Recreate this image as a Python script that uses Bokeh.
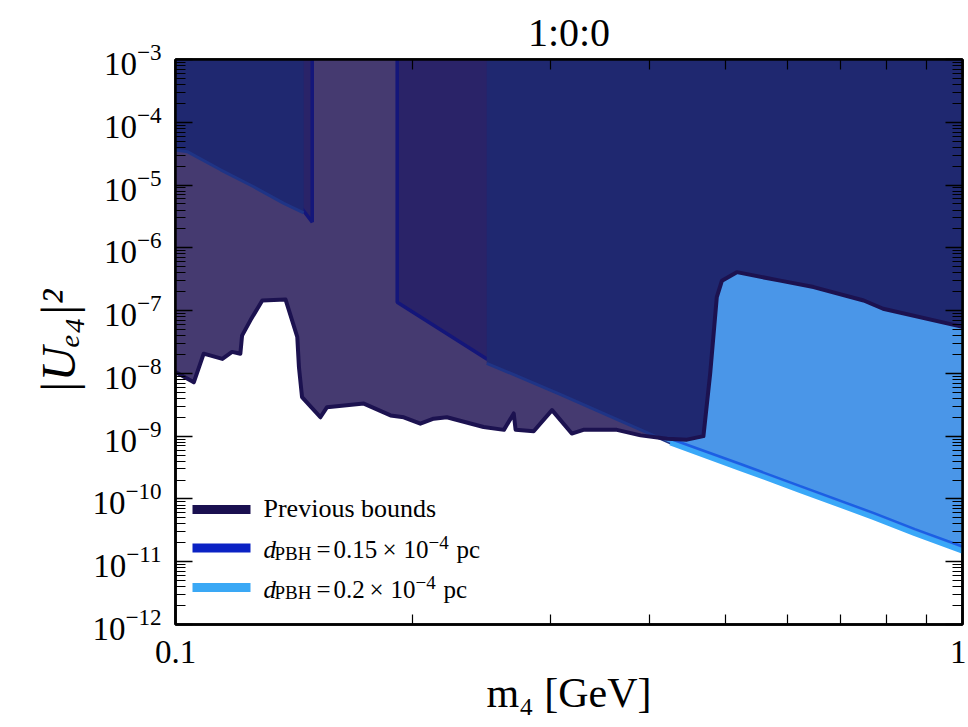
import numpy as np
from bokeh.plotting import figure
from bokeh.models import LogAxis, FixedTicker, LogTickFormatter, Label, BoxAnnotation, Range1d
from bokeh.embed import file_html
from bokeh.resources import INLINE

# ---------------- data ----------------
title_text = "1:0:0"
x_label = "m\u2084 [GeV]"
y_label = "|U\u2091\u2084|\u00b2"
x_min, x_max = 0.1, 1.0
y_min, y_max = 1e-12, 1e-3
x_major = [0.1, 1.0]
x_minor = [0.2, 0.3, 0.4, 0.5, 0.6, 0.7, 0.8, 0.9]
x_major_labels = {0.1: "0.1", 1: "1"}
y_major = [1e-12, 1e-11, 1e-10, 1e-9, 1e-8, 1e-7, 1e-6, 1e-5, 1e-4, 1e-3]

# previous bounds (lower edge of excluded region)
prev_x = [0.1, 0.1055, 0.1086, 0.1147, 0.118, 0.1209, 0.1215, 0.1245, 0.1289, 0.138,
          0.1428, 0.1435, 0.1448, 0.1528, 0.1558, 0.1735, 0.1876, 0.195, 0.2047, 0.2128,
          0.2212, 0.2463, 0.2614, 0.269, 0.2705, 0.2852, 0.3009, 0.3188, 0.3298, 0.3638,
          0.3899, 0.4214, 0.4466, 0.4686, 0.478, 0.4873, 0.4947, 0.5167, 0.5866, 0.6468,
          0.7489, 0.7927, 1.0]
prev_y = [1.05e-8, 7.2e-9, 2.06e-8, 1.7e-8, 2.2e-8, 2.06e-8, 4.0e-8, 7.0e-8, 1.45e-7, 1.5e-7,
          3.8e-8, 1.26e-8, 4.2e-9, 2.0e-9, 2.9e-9, 3.3e-9, 2.14e-9, 2.0e-9, 1.58e-9, 1.9e-9,
          2.0e-9, 1.4e-9, 1.26e-9, 2.3e-9, 1.26e-9, 1.2e-9, 2.6e-9, 1.1e-9, 1.26e-9, 1.26e-9,
          1.03e-9, 9.1e-10, 8.8e-10, 1.0e-9, 1.0e-8, 1.64e-7, 3.0e-7, 4.1e-7, 3.0e-7, 2.37e-7,
          1.45e-7, 1.07e-7, 5.5e-8]

# d_PBH = 0.15e-4 pc bound (two pieces)
pbh15_left_x = [0.1, 0.1035, 0.1141, 0.1257, 0.1373, 0.1448, 0.1492]
pbh15_left_y = [4.3e-5, 4.0e-5, 2.05e-5, 1.11e-5, 6.05e-6, 4.19e-6, 2.57e-6]
pbh15_right_x = [0.1913, 0.2486, 0.3087, 0.4253, 0.5223, 0.6222, 0.7703, 0.87, 1.0]
pbh15_right_y = [1.36e-7, 1.7e-8, 5.4e-9, 9.1e-10, 3.6e-10, 1.6e-10, 6.0e-11, 3.3e-11, 1.75e-11]

# d_PBH = 0.2e-4 pc bound (two pieces)
pbh20_left_x = [0.1, 0.1035, 0.1141, 0.1257, 0.1373, 0.1455]
pbh20_left_y = [3.6e-5, 3.4e-5, 1.75e-5, 9.4e-6, 5.1e-6, 3.6e-6]
pbh20_right_x = [0.2486, 0.3087, 0.4253, 0.5223, 0.6222, 0.7703, 0.87, 1.0]
pbh20_right_y = [1.45e-8, 4.6e-9, 7.8e-10, 3.05e-10, 1.36e-10, 5.1e-11, 2.8e-11, 1.48e-11]

legend_prev = "Previous bounds"
legend_d = "d"
legend_sub = "PBH"
legend_nums = ["0.15", "0.2"]
legend_exp = "\u22124"
legend_unit = "pc"

# ---------------- styles ----------------
c_prev_fill = "#453a70"
c_prev_line = "#1c1250"
c_only15 = "#2a2368"
c_both = "#1f2870"
c_light = "#4a96e8"
c_edge15 = "#14167a"
c_edge20 = "#1f3486"
c_line15 = "#1c5fe4"
c_line20 = "#3aa8f8"
leg_cols = ["#1a1050", "#0b22c4", "#3aa8f5"]
serif = "Liberation Serif"

W, H = 966, 725
BL, BR, BT, BB = 175, 4, 59, 101

p = figure(width=W, height=H, x_axis_type="log", y_axis_type="log",
           x_range=Range1d(x_min, x_max), y_range=Range1d(y_min, y_max),
           output_backend="svg", toolbar_location=None,
           min_border_left=BL, min_border_right=BR, min_border_top=BT, min_border_bottom=BB)
p.grid.visible = False
p.outline_line_color = "black"
p.outline_line_width = 2.5
p.background_fill_color = "white"

# title
p.title.text = title_text
p.title.align = "center"
p.title.text_font = serif
p.title.text_font_size = "40px"
p.title.text_font_style = "normal"
p.title.text_color = "black"


def loginterp(xq, xs, ys):
    return 10 ** np.interp(np.log10(xq), np.log10(xs), np.log10(ys))


# previous bounds fill
p.varea(x=prev_x, y1=prev_y, y2=[y_max] * len(prev_x), fill_color=c_prev_fill)

# 0.15 pieces (only-0.15 colour)
p.varea(x=pbh15_left_x, y1=pbh15_left_y, y2=[y_max] * len(pbh15_left_x), fill_color=c_only15)
p.varea(x=pbh15_right_x, y1=pbh15_right_y, y2=[y_max] * len(pbh15_right_x), fill_color=c_only15)
p.line(x=pbh15_left_x + [pbh15_left_x[-1]], y=pbh15_left_y + [y_max], line_color=c_edge15, line_width=3.5)
p.line(x=[pbh15_right_x[0]] + pbh15_right_x, y=[y_max] + pbh15_right_y, line_color=c_edge15, line_width=3.5)

# 0.2 pieces (overlap colour)
p.varea(x=pbh20_left_x, y1=pbh20_left_y, y2=[y_max] * len(pbh20_left_x), fill_color=c_both)
p.varea(x=pbh20_right_x, y1=pbh20_right_y, y2=[y_max] * len(pbh20_right_x), fill_color=c_both)
p.line(x=pbh20_left_x, y=pbh20_left_y, line_color=c_edge20, line_width=3)
p.line(x=pbh20_right_x, y=pbh20_right_y, line_color=c_edge20, line_width=3)

# PBH-only region (not covered by previous bounds)
xg = np.unique(np.concatenate([np.geomspace(pbh20_right_x[0], 1.0, 500),
                               [x for x in prev_x if x >= pbh20_right_x[0]], pbh20_right_x]))
low = loginterp(xg, pbh20_right_x, pbh20_right_y)
high = np.maximum(loginterp(xg, prev_x, prev_y), low)
p.varea(x=xg, y1=low, y2=high, fill_color=c_light)

# bright PBH lines where they are visible
k15 = pbh15_right_x.index(0.4253)
k20 = pbh20_right_x.index(0.4253)
p.line(x=pbh20_right_x[k20:], y=pbh20_right_y[k20:], line_color=c_line20, line_width=5)
p.line(x=pbh15_right_x[k15:], y=pbh15_right_y[k15:], line_color=c_line15, line_width=2.5)

# previous bounds outline
p.line(x=prev_x, y=prev_y, line_color=c_prev_line, line_width=4, line_join="round")

# ---------------- axes ----------------
y_minor = [m * 10.0 ** e for e in range(-12, -3) for m in range(2, 10)]
xt = FixedTicker(ticks=x_major, minor_ticks=x_minor)
yt = FixedTicker(ticks=y_major, minor_ticks=y_minor)


def style_axis(ax, labels=True):
    ax.axis_line_color = "black"
    ax.axis_line_width = 2.5
    ax.major_tick_in = 17
    ax.major_tick_out = 0
    ax.minor_tick_in = 10
    ax.minor_tick_out = 0
    ax.major_tick_line_color = "black"
    ax.minor_tick_line_color = "black"
    ax.major_tick_line_width = 1.5
    ax.minor_tick_line_width = 1.2
    if labels:
        ax.major_label_text_font = serif
        ax.major_label_text_font_size = "33px"
        ax.major_label_text_color = "black"
    else:
        ax.major_label_text_font_size = "1px"
        ax.major_label_text_alpha = 0.0
        ax.major_label_standoff = 0


xa = p.xaxis[0]
xa.ticker = xt
xa.major_label_overrides = x_major_labels
style_axis(xa)
xa.major_label_standoff = 16
xa.axis_label = x_label
xa.axis_label_text_font = serif
xa.axis_label_text_font_size = "42px"
xa.axis_label_text_font_style = "normal"
xa.axis_label_text_color = "black"
xa.axis_label_standoff = 4

ya = p.yaxis[0]
ya.ticker = yt
ya.formatter = LogTickFormatter()
style_axis(ya)
ya.major_label_standoff = 14
ya.axis_label = y_label
ya.axis_label_text_font = serif
ya.axis_label_text_font_size = "48px"
ya.axis_label_text_font_style = "italic"
ya.axis_label_text_color = "black"
ya.axis_label_standoff = 4

top_ax = LogAxis(ticker=FixedTicker(ticks=x_major, minor_ticks=x_minor))
style_axis(top_ax, labels=False)
p.add_layout(top_ax, "above")
right_ax = LogAxis(ticker=FixedTicker(ticks=y_major, minor_ticks=y_minor))
style_axis(right_ax, labels=False)
p.add_layout(right_ax, "right")

# ---------------- legend (manual) ----------------
frame_w = W - BL - BR
frame_h = H - BT - BB


def fx(px):
    return x_min * (x_max / x_min) ** (px / frame_w)


def fy(py):
    return y_min * (y_max / y_min) ** (py / frame_h)


rows = [115, 76.5, 37]
for r, col in zip(rows, leg_cols):
    p.add_layout(BoxAnnotation(left=fx(17), right=fx(75), bottom=fy(r - 4.5), top=fy(r + 4.5),
                               fill_color=col, fill_alpha=1.0, line_color=None))

tx = 88
fs_main, fs_sub, fs_sup = "25px", "19px", "19px"


def add_text(txt, dx, row, dy=0, size=fs_main, style="normal"):
    p.add_layout(Label(x=fx(tx + dx), y=fy(row + dy), text=txt, text_font=serif,
                       text_font_size=size, text_font_style=style, text_color="black",
                       text_baseline="middle", text_align="left"))


add_text(legend_prev, 0, rows[0], dy=1, size="26px")
# piece offsets (px from text start) for each d_PBH row
offs = [dict(eq=53, num=70, times=119, ten=140, exp=165, unit=193),
        dict(eq=53, num=70, times=106, ten=127, exp=152, unit=180)]
for row, num, o in zip(rows[1:], legend_nums, offs):
    add_text(legend_d, 0, row, dy=-1.5, style="italic")
    add_text(legend_sub, 11, row, dy=-5, size=fs_sub)
    add_text("=", o["eq"], row, dy=-1.5)
    add_text(num, o["num"], row, dy=-1.5)
    add_text("\u00d7", o["times"], row, dy=-1.5)
    add_text("10", o["ten"], row, dy=-1.5)
    add_text(legend_exp, o["exp"], row, dy=5.5, size=fs_sup)
    add_text(legend_unit, o["unit"], row, dy=-1.5)

open("out.html", "w").write(file_html(p, INLINE))
